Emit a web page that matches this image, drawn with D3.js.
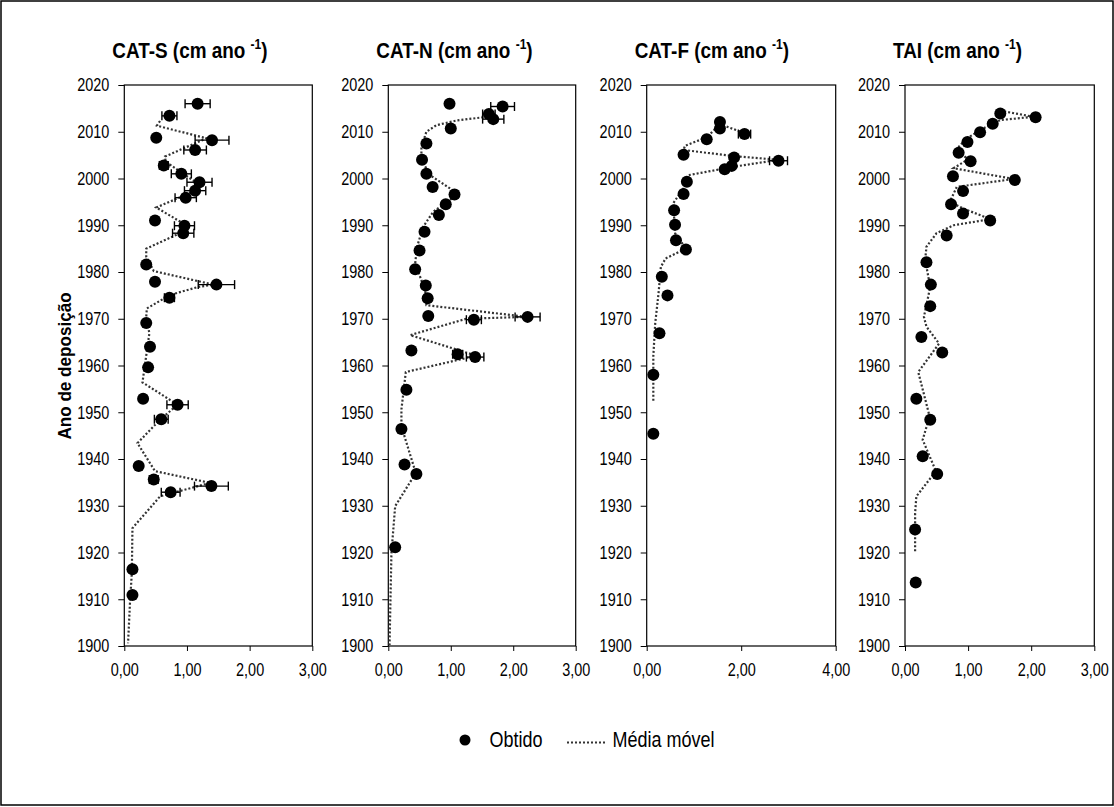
<!DOCTYPE html>
<html>
<head>
<meta charset="utf-8">
<script src="https://cdn.jsdelivr.net/npm/d3@7"></script>
<style>
  body { margin: 0; background: #fff; }
  svg { display: block; }
  text { font-family: "Liberation Sans", Arial, sans-serif; fill: #000; }
</style>
</head>
<body>
<svg id="chart" width="1114" height="807"></svg>
<script>
// Observed deposition rates: [year, rate (cm ano-1), error]
const catS = [
  [2016.0, 1.17, 0.20], [2013.4, 0.72, 0.12], [2008.7, 0.51, 0], [2008.2, 1.40, 0.27],
  [2006.1, 1.13, 0.18], [2002.8, 0.63, 0.07], [2001.0, 0.91, 0.16], [1999.2, 1.20, 0.20],
  [1997.4, 1.13, 0.17], [1995.9, 0.98, 0.17], [1991.0, 0.49, 0], [1989.9, 0.96, 0.16],
  [1988.3, 0.94, 0.17], [1981.6, 0.35, 0], [1977.9, 0.49, 0], [1977.3, 1.47, 0.29],
  [1974.5, 0.72, 0.08], [1969.1, 0.35, 0], [1964.0, 0.41, 0], [1959.6, 0.38, 0],
  [1952.9, 0.30, 0], [1951.6, 0.85, 0.17], [1948.5, 0.59, 0.11], [1938.5, 0.23, 0],
  [1935.6, 0.47, 0.07], [1934.2, 1.39, 0.27], [1932.9, 0.74, 0.15], [1916.4, 0.13, 0],
  [1910.9, 0.13, 0]
];
const catN = [
  [2016.0, 0.98, 0], [2015.4, 1.83, 0.19], [2013.8, 1.61, 0.10], [2012.7, 1.68, 0.17],
  [2010.7, 1.00, 0], [2007.5, 0.61, 0], [2004.0, 0.54, 0], [2001.0, 0.61, 0],
  [1998.2, 0.71, 0], [1996.6, 1.06, 0.05], [1994.5, 0.92, 0], [1992.2, 0.81, 0],
  [1988.6, 0.58, 0], [1984.6, 0.50, 0], [1980.6, 0.43, 0], [1977.1, 0.60, 0],
  [1974.4, 0.63, 0], [1970.6, 0.64, 0], [1970.4, 2.23, 0.20], [1969.8, 1.37, 0.12],
  [1963.2, 0.37, 0], [1962.4, 1.11, 0.08], [1961.8, 1.39, 0.14], [1954.8, 0.29, 0],
  [1946.4, 0.21, 0], [1938.8, 0.26, 0], [1936.8, 0.45, 0], [1921.1, 0.11, 0]
];
const catF = [
  [2012.1, 1.55, 0], [2010.7, 1.55, 0], [2009.5, 2.07, 0.13], [2008.4, 1.27, 0],
  [2005.1, 0.78, 0], [2004.5, 1.85, 0.06], [2003.8, 2.79, 0.19], [2002.7, 1.80, 0.05],
  [2002.0, 1.65, 0], [1999.3, 0.85, 0], [1996.7, 0.78, 0], [1993.2, 0.58, 0],
  [1990.1, 0.60, 0], [1986.8, 0.62, 0], [1984.8, 0.83, 0], [1979.0, 0.32, 0],
  [1975.0, 0.44, 0], [1966.9, 0.27, 0], [1958.0, 0.14, 0], [1945.4, 0.14, 0]
];
const tai = [
  [2013.9, 1.51, 0], [2013.1, 2.07, 0.05], [2011.7, 1.39, 0], [2009.9, 1.19, 0],
  [2007.8, 0.99, 0], [2005.5, 0.85, 0], [2003.7, 1.04, 0], [2000.5, 0.76, 0],
  [1999.7, 1.74, 0], [1997.3, 0.92, 0], [1994.5, 0.73, 0], [1992.5, 0.92, 0],
  [1991.0, 1.35, 0], [1987.8, 0.66, 0], [1982.1, 0.34, 0], [1977.3, 0.41, 0],
  [1972.7, 0.40, 0], [1966.1, 0.26, 0], [1962.8, 0.59, 0], [1952.9, 0.18, 0],
  [1948.4, 0.40, 0], [1940.6, 0.28, 0], [1936.8, 0.51, 0], [1924.9, 0.16, 0],
  [1913.6, 0.17, 0]
];

// Moving-average curves: [year, rate]
const catSMa = [
  [2012.3, 0.57], [2011.3, 0.52], [2008.6, 1.31], [2004.7, 0.65], [2003.6, 0.66],
  [1999.1, 1.15], [1997.2, 1.10], [1993.8, 0.51], [1990.0, 0.99], [1988.8, 0.97],
  [1985.0, 0.35], [1983.3, 0.35], [1980.2, 0.47], [1977.3, 1.42], [1976.8, 1.18],
  [1975.1, 0.73], [1972.2, 0.36], [1970.4, 0.35], [1966.9, 0.40], [1956.4, 0.29],
  [1951.6, 0.85], [1948.4, 0.57], [1943.4, 0.21], [1937.4, 0.49], [1934.9, 1.37],
  [1932.0, 0.57], [1925.2, 0.13], [1915.6, 0.12], [1909.1, 0.09], [1900.6, 0.06]
];
const catNMa = [
  [2013.1, 1.52], [2012.4, 1.09], [2011.4, 0.77], [2010.0, 0.61], [2006.8, 0.53],
  [2004.0, 0.53], [2000.7, 0.67], [1996.7, 1.12], [1992.9, 0.72], [1989.7, 0.56],
  [1985.4, 0.46], [1981.8, 0.43], [1976.1, 0.59], [1972.9, 0.61], [1970.4, 2.22],
  [1970.0, 1.25], [1966.5, 0.35], [1962.1, 1.41], [1958.6, 0.28], [1950.6, 0.21],
  [1947.0, 0.21], [1937.0, 0.44], [1929.9, 0.11], [1919.9, 0.05], [1900.2, 0.02]
];
const catFMa = [
  [2009.8, 2.05], [2011.6, 1.55], [2008.8, 1.27], [2007.0, 0.81], [2006.1, 0.78],
  [2004.8, 1.83], [2004.0, 2.79], [2002.5, 1.83], [2000.7, 0.88], [1997.9, 0.78],
  [1994.7, 0.56], [1991.8, 0.58], [1988.3, 0.60], [1985.0, 0.83], [1982.9, 0.40],
  [1981.1, 0.30], [1975.4, 0.25], [1969.0, 0.18], [1962.0, 0.14], [1952.4, 0.14]
];
const taiMa = [
  [2014.5, 1.51], [2013.2, 2.04], [2012.5, 1.51], [2010.7, 1.24], [2008.6, 0.98],
  [2006.2, 0.81], [2004.1, 1.00], [2002.2, 0.77], [1999.9, 1.72], [1998.2, 0.82],
  [1995.0, 0.71], [1993.6, 0.92], [1991.3, 1.35], [1990.0, 0.77], [1988.3, 0.50],
  [1985.4, 0.34], [1982.6, 0.32], [1976.8, 0.40], [1970.4, 0.30], [1968.3, 0.34],
  [1964.7, 0.54], [1958.6, 0.21], [1949.1, 0.39], [1944.1, 0.28], [1937.4, 0.49],
  [1932.0, 0.18], [1928.4, 0.16], [1919.9, 0.16]
];

// Axis ticks and labels
const yearTicks = [1900, 1910, 1920, 1930, 1940, 1950, 1960, 1970, 1980, 1990, 2000, 2010, 2020];
const rateTicks3 = [0, 1, 2, 3];
const rateTicks4 = [0, 2, 4];
const panelNames = ["CAT-S", "CAT-N", "CAT-F", "TAI"];
const unitText = "(cm ano ";
const unitExp = "-1";
const yAxisTitle = "Ano de deposição";
const legendLabels = ["Obtido", "Média móvel"];

const panels = [
  { name: panelNames[0], obs: catS, ma: catSMa, max: 3, ticks: rateTicks3, left: 124.3, right: 312.3 },
  { name: panelNames[1], obs: catN, ma: catNMa, max: 3, ticks: rateTicks3, left: 388.3, right: 575.7 },
  { name: panelNames[2], obs: catF, ma: catFMa, max: 4, ticks: rateTicks4, left: 646.7, right: 835.7 },
  { name: panelNames[3], obs: tai,  ma: taiMa,  max: 3, ticks: rateTicks3, left: 905.0, right: 1094.3 }
];

const W = 1114, H = 807;
const plotTop = 85, plotBottom = 646;
const narrow = 0.78;           // horizontal condensing of the narrow typeface
const titleNarrow = 0.86;
const maStroke = "#333";

const svg = d3.select("#chart");

// outer frame
svg.append("rect")
  .attr("x", 1).attr("y", 1).attr("width", W - 2).attr("height", H - 3)
  .attr("fill", "none").attr("stroke", "#000").attr("stroke-width", 1.5);

const y = d3.scaleLinear().domain([1900, 2020]).range([plotBottom, plotTop]);
const ptBR = d3.formatLocale({ decimal: ",", thousands: ".", grouping: [3], currency: ["", ""] });
const rateFmt = ptBR.format(".2f");

function condense(sel, s) {
  sel.each(function () {
    const t = d3.select(this);
    const x0 = +t.attr("x") || 0;
    t.attr("x", x0 / s).attr("transform", `scale(${s},1)`);
  });
}

panels.forEach(p => {
  const x = d3.scaleLinear().domain([0, p.max]).range([p.left, p.right]);
  const g = svg.append("g");

  // year axis
  const ya = g.append("g")
    .attr("transform", `translate(${p.left},0)`)
    .call(d3.axisLeft(y).tickValues(yearTicks).tickSize(6).tickSizeOuter(0).tickPadding(9).tickFormat(d3.format("d")))
    .attr("font-family", null).attr("font-size", null);
  ya.select(".domain").remove();
  ya.selectAll("line").attr("stroke", "#000");
  ya.selectAll("text").style("font-size", "18.5px");
  condense(ya.selectAll("text"), narrow);

  // rate axis
  const xa = g.append("g")
    .attr("transform", `translate(0,${plotBottom})`)
    .call(d3.axisBottom(x).tickValues(p.ticks).tickSize(5).tickSizeOuter(0).tickPadding(12).tickFormat(rateFmt))
    .attr("font-family", null).attr("font-size", null);
  xa.select(".domain").remove();
  xa.selectAll("line").attr("stroke", "#000");
  xa.selectAll("text").style("font-size", "18.5px");
  condense(xa.selectAll("text"), narrow);

  // plot frame
  g.append("rect")
    .attr("x", p.left).attr("y", plotTop)
    .attr("width", p.right - p.left).attr("height", plotBottom - plotTop)
    .attr("fill", "none").attr("stroke", "#000").attr("stroke-width", 1.2);

  // moving average
  const line = d3.line().x(d => x(d[1])).y(d => y(d[0]));
  g.append("path")
    .datum(p.ma)
    .attr("d", line)
    .attr("fill", "none")
    .attr("stroke", maStroke)
    .attr("stroke-width", 2.2)
    .attr("stroke-dasharray", "2,2");

  // error bars
  const withErr = p.obs.filter(d => d[2] > 0);
  const eb = g.append("g").attr("stroke", "#000").attr("stroke-width", 1.4);
  eb.selectAll("line.bar").data(withErr).join("line").attr("class", "bar")
    .attr("x1", d => x(d[1] - d[2])).attr("x2", d => x(d[1] + d[2]))
    .attr("y1", d => y(d[0])).attr("y2", d => y(d[0]));
  eb.selectAll("line.capl").data(withErr).join("line").attr("class", "capl")
    .attr("x1", d => x(d[1] - d[2])).attr("x2", d => x(d[1] - d[2]))
    .attr("y1", d => y(d[0]) - 4.5).attr("y2", d => y(d[0]) + 4.5);
  eb.selectAll("line.capr").data(withErr).join("line").attr("class", "capr")
    .attr("x1", d => x(d[1] + d[2])).attr("x2", d => x(d[1] + d[2]))
    .attr("y1", d => y(d[0]) - 4.5).attr("y2", d => y(d[0]) + 4.5);

  // observed points
  g.append("g").selectAll("circle").data(p.obs).join("circle")
    .attr("cx", d => x(d[1])).attr("cy", d => y(d[0]))
    .attr("r", 6).attr("fill", "#000");

  // panel title
  const tg = svg.append("g").attr("transform", `translate(${p.left - 12},58) scale(${titleNarrow},1)`);
  const tt = tg.append("text").style("font-size", "22px").style("font-weight", "bold");
  tt.append("tspan").text(`${p.name} ${unitText}`);
  tt.append("tspan").text(unitExp).style("font-size", "14px").attr("dy", -9);
  tt.append("tspan").text(")").attr("dy", 9);
});

// year axis title
svg.append("g")
  .attr("transform", `translate(71,366) rotate(-90) scale(0.9,1)`)
  .append("text")
  .attr("text-anchor", "middle")
  .style("font-size", "19px").style("font-weight", "bold")
  .text(yAxisTitle);

// legend
const lg = svg.append("g");
lg.append("circle").attr("cx", 465).attr("cy", 740).attr("r", 5.5).attr("fill", "#000");
lg.append("g").attr("transform", `translate(489.5,747) scale(0.8,1)`)
  .append("text").style("font-size", "22.5px").text(legendLabels[0]);
lg.append("line")
  .attr("x1", 567).attr("x2", 607).attr("y1", 742.5).attr("y2", 742.5)
  .attr("stroke", maStroke).attr("stroke-width", 2).attr("stroke-dasharray", "2,2");
lg.append("g").attr("transform", `translate(612.5,747) scale(0.8,1)`)
  .append("text").style("font-size", "22.5px").text(legendLabels[1]);
</script>
</body>
</html>
